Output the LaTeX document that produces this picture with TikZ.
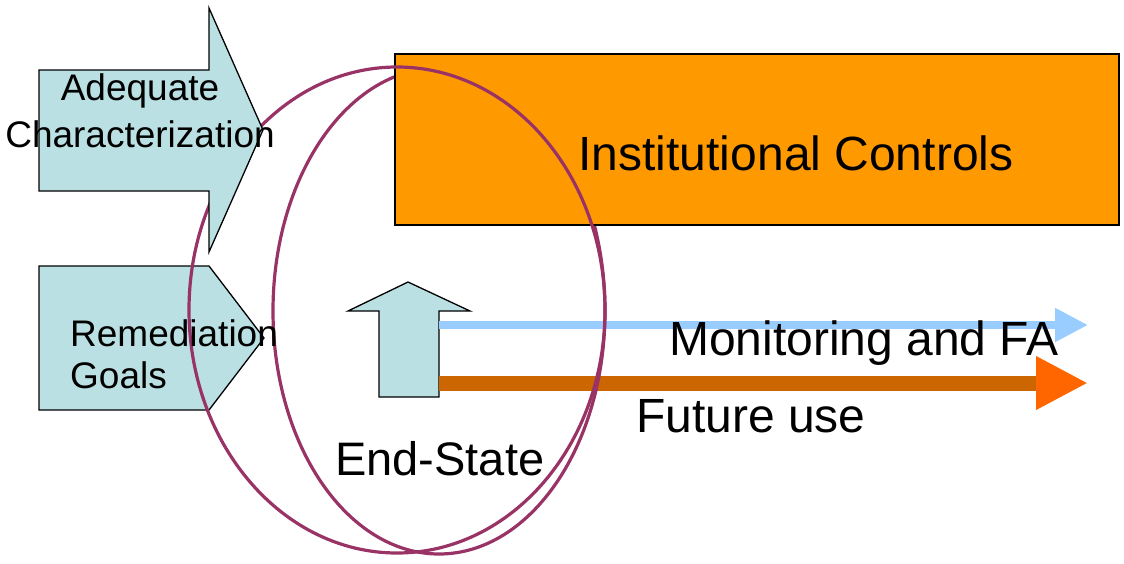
\documentclass[tikz,border=0pt]{standalone}
\usepackage{fontspec}
\setmainfont{Liberation Sans}
\usetikzlibrary{arrows.meta}
\definecolor{cyanfill}{HTML}{BBE0E3}
\definecolor{icfill}{HTML}{FF9900}
\definecolor{ringcol}{HTML}{993366}
\definecolor{monblue}{HTML}{99CCFF}
\definecolor{futline}{HTML}{CC6600}
\definecolor{futhead}{HTML}{FF6600}
\tikzset{
  shapebox/.style={draw=black, line width=1.3pt, fill=cyanfill, line join=miter},
  ring/.style={draw=ringcol, line width=3.2pt},
  smalltxt/.style={font=\fontsize{37}{47}\selectfont, inner sep=0pt},
  bigtxt/.style={font=\fontsize{48}{56}\selectfont, inner sep=0pt},
  midtxt/.style={font=\fontsize{47}{56}\selectfont, inner sep=0pt},
}
\begin{document}
\begin{tikzpicture}[x=1pt,y=-1pt]
\useasboundingbox (0,0) rectangle (1124,563);
% Remediation goals pentagon
\draw[shapebox] (39,266) -- (209,266) -- (264,338) -- (209,410) -- (39,410) -- cycle;
% End-state up arrow
\draw[shapebox] (379,397) -- (379,311) -- (348,311) -- (408,282) -- (470,311) -- (439,311) -- (439,397) -- cycle;
\coordinate (upblue) at (439,325);
\coordinate (uporange) at (439,383);
\coordinate (blueend) at (1088,325);
\coordinate (orangeend) at (1088,383);
% Monitoring and future use arrows
\draw[monblue, line width=8pt, -{Triangle[length=33pt,width=32pt]}] (upblue) -- (blueend);
\draw[futline, line width=15pt, -{Triangle[length=52pt,width=50pt,color=futhead]}] (uporange) -- (orangeend);
% narrow ring (under the box)
\draw[ring] (439,311) ellipse [x radius=166pt, y radius=243pt];
% Institutional controls box
\node[draw=black, line width=2pt, fill=icfill, minimum width=724pt, minimum height=171pt, inner sep=0pt, anchor=north west] (ic) at (394,53) {};
\node[bigtxt, anchor=base] (ictxt) at (796,170) {Institutional Controls};
% wide ring (over the box)
\draw[ring] (397,310) ellipse [x radius=208pt, y radius=243pt];
% Adequate characterization arrow
\draw[shapebox] (39,70) -- (209,70) -- (209,8) -- (263,130) -- (209,252) -- (209,191) -- (39,191) -- cycle;
\node[smalltxt, anchor=base] (adq) at (140,100) {Adequate};
\node[smalltxt, anchor=base] (chr) at (140,147) {Characterization};
\node[smalltxt, anchor=base west] (rem) at (70,346) {Remediation};
\node[smalltxt, anchor=base west] (goals) at (70,388) {Goals};
\node[bigtxt, anchor=base west] (mon) at (669,355) {Monitoring and FA};
\node[bigtxt, anchor=base west] (fut) at (636,432) {Future use};
\node[midtxt, anchor=base west] (end) at (335,475) {End-State};
\end{tikzpicture}
\end{document}
